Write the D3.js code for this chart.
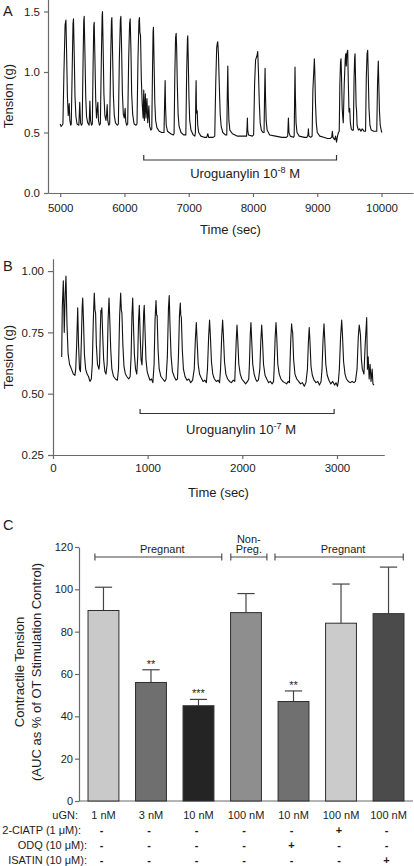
<!DOCTYPE html>
<html><head><meta charset="utf-8">
<script src="https://cdn.jsdelivr.net/npm/d3@7"></script>
<style>
html,body{margin:0;padding:0;background:#fff;}
svg{display:block;font-family:"Liberation Sans",Arial,sans-serif;}
</style></head><body>
<svg id="chart" width="414" height="866"></svg>
<script>
// ---------- DATA ----------
const aXTicks = [5000, 6000, 7000, 8000, 9000, 10000];
const aYTicks = [0, 0.5, 1.0, 1.5];
const bXTicks = [0, 1000, 2000, 3000];
const bYTicks = [0.25, 0.5, 0.75, 1.0];
const cYTicks = [0, 20, 40, 60, 80, 100, 120];

const aTreatment = [6300, 9300];   // Uroguanylin 10^-8 M (sec)
const bTreatment = [920, 2970];    // Uroguanylin 10^-7 M (sec)

// Panel A trace: [time (sec), tension (g)]
const traceA = [
[5000,0.57],[5015,0.55],[5030,0.56],[5042,0.57],
[5058,1.0],[5076,1.39],[5089,1.43],[5100,1.15],[5112,0.8],[5125,0.64],[5140,0.74],[5150,0.6],[5163,0.56],
[5172,0.57],[5186,1.0],[5199,1.40],[5207,1.44],[5218,1.15],[5230,0.8],[5245,0.63],[5262,0.57],[5290,0.56],[5304,0.75],[5316,0.58],[5330,0.56],
[5342,0.57],[5356,1.1],[5366,1.42],[5373,1.46],[5385,1.15],[5397,0.8],[5410,0.63],[5428,0.58],[5450,0.56],[5462,0.76],[5472,0.6],[5487,0.56],
[5500,0.57],[5513,1.1],[5522,1.38],[5529,1.41],[5540,1.12],[5552,0.78],[5565,0.62],[5576,0.69],[5586,0.75],[5595,0.6],[5610,0.56],
[5625,0.57],[5640,1.1],[5652,1.46],[5658,1.50],[5668,1.2],[5680,0.82],[5695,0.64],[5712,0.6],[5723,0.66],[5731,0.73],[5740,0.6],[5755,0.56],
[5770,0.57],[5785,1.1],[5797,1.42],[5804,1.45],[5815,1.15],[5828,0.8],[5842,0.64],[5860,0.58],[5890,0.56],
[5905,0.57],[5920,1.1],[5936,1.43],[5944,1.46],[5955,1.2],[5968,0.82],[5982,0.65],[5998,0.62],[6010,0.70],[6020,0.59],[6035,0.56],
[6050,0.57],[6065,1.1],[6080,1.4],[6089,1.44],[6100,1.2],[6112,0.82],[6128,0.65],[6150,0.57],[6180,0.56],
[6195,0.57],[6210,1.1],[6225,1.42],[6233,1.45],[6240,1.33],[6250,1.3],[6262,0.95],[6275,0.75],[6290,0.62],[6300,0.85],[6310,0.6],[6325,0.82],[6335,0.62],[6350,0.78],[6362,0.58],[6380,0.72],[6392,0.55],[6410,0.52],
[6425,0.53],[6436,1.0],[6445,1.33],[6451,1.37],[6460,1.1],[6472,0.75],[6485,0.6],[6505,0.54],[6540,0.51],[6580,0.50],
[6615,0.50],[6625,0.75],[6633,0.93],[6640,0.7],[6650,0.56],[6670,0.51],[6720,0.49],[6760,0.48],
[6772,0.49],[6783,0.95],[6795,1.28],[6804,1.32],[6812,1.2],[6822,0.9],[6835,0.65],[6850,0.55],[6880,0.50],[6920,0.48],
[6955,0.48],[6968,1.0],[6980,1.27],[6985,1.30],[6993,1.1],[7003,0.8],[7015,0.6],[7035,0.52],[7070,0.48],[7095,0.47],
[7104,0.5],[7110,0.8],[7115,0.93],[7120,0.7],[7125,0.66],[7132,0.68],[7140,0.56],[7155,0.50],[7190,0.47],[7240,0.46],[7280,0.46],[7297,0.49],[7310,0.46],[7380,0.46],
[7405,0.47],[7420,0.9],[7435,1.2],[7445,1.24],[7452,1.25],[7462,1.15],[7475,0.9],[7490,0.65],[7505,0.55],[7530,0.50],[7570,0.48],
[7592,0.48],[7601,0.85],[7608,1.05],[7615,0.8],[7625,0.6],[7640,0.52],[7680,0.49],[7760,0.47],[7850,0.47],[7900,0.47],[7908,0.55],[7913,0.62],[7918,0.52],[7930,0.48],[7990,0.47],
[8010,0.48],[8025,0.9],[8040,1.1],[8060,1.13],[8074,1.17],[8085,1.0],[8098,0.75],[8112,0.58],[8130,0.52],[8155,0.5],
[8172,0.5],[8180,0.8],[8188,1.03],[8195,0.8],[8205,0.6],[8220,0.52],[8260,0.48],[8350,0.47],[8450,0.46],[8520,0.46],[8540,0.47],[8551,0.62],[8560,0.5],[8580,0.47],[8630,0.46],
[8641,0.47],[8648,0.8],[8654,1.04],[8660,0.8],[8670,0.58],[8685,0.5],[8720,0.47],[8800,0.46],[8840,0.46],[8855,0.48],[8862,0.53],[8870,0.47],[8900,0.46],
[8920,0.47],[8932,0.85],[8942,0.96],[8950,1.05],[8955,1.11],[8962,1.0],[8972,0.75],[8985,0.58],[9000,0.5],[9040,0.47],[9100,0.46],[9160,0.45],[9200,0.45],[9225,0.46],[9235,0.51],[9245,0.46],[9270,0.44],[9285,0.47],[9300,0.42],[9315,0.47],[9330,0.5],
[9342,0.51],[9352,0.9],[9362,1.08],[9370,1.11],[9378,0.95],[9388,0.7],[9398,0.62],[9405,0.58],
[9420,0.9],[9435,1.1],[9443,1.15],[9452,1.05],[9460,1.15],[9474,1.18],[9482,0.95],[9494,0.67],[9505,0.70],[9515,0.58],[9530,0.53],[9545,0.52],
[9562,0.52],[9573,0.95],[9582,1.12],[9588,1.15],[9596,0.95],[9605,0.72],[9612,0.68],[9620,0.56],[9640,0.52],[9660,0.53],[9680,0.51],[9700,0.53],[9730,0.51],
[9752,0.51],[9763,0.95],[9775,1.15],[9785,1.18],[9795,0.95],[9805,0.7],[9820,0.56],[9840,0.52],[9880,0.51],[9910,0.51],
[9926,0.51],[9938,0.9],[9950,1.09],[9958,0.9],[9968,0.68],[9980,0.56],[9995,0.52],[10005,0.50]
];

// Panel B trace: [time (sec), tension (g)]
const traceB = [
[92,0.65],[98,0.85],[109,0.96],[119,0.75],[128,0.9],[137,0.98],[148,0.78],[160,0.66],[175,0.62],[195,0.6],[215,0.58],[232,0.575],[240,0.6],
[250,0.7],[261,0.85],[270,0.7],[280,0.6],[290,0.59],
[300,0.72],[308,0.85],[314,0.89],[322,0.8],[332,0.66],[345,0.6],[360,0.58],[375,0.57],[390,0.55],[405,0.56],
[415,0.62],[426,0.8],[436,0.91],[444,0.84],[450,0.83],[458,0.7],[470,0.62],[485,0.6],
[492,0.62],[500,0.76],[506,0.84],[510,0.83],[516,0.85],[524,0.75],[535,0.64],[548,0.59],[560,0.58],
[572,0.62],[582,0.8],[592,0.89],[600,0.8],[610,0.68],[622,0.6],[640,0.57],[660,0.56],[680,0.555],
[692,0.6],[704,0.82],[715,0.91],[722,0.84],[728,0.83],[738,0.7],[750,0.61],[765,0.58],[780,0.57],[800,0.56],[815,0.57],
[825,0.65],[834,0.82],[842,0.89],[850,0.78],[860,0.66],[872,0.6],[885,0.58],
[895,0.65],[904,0.8],[912,0.86],[920,0.75],[930,0.64],[940,0.617],
[950,0.72],[958,0.83],[964,0.86],[972,0.76],[982,0.64],[995,0.59],[1010,0.57],[1025,0.555],[1040,0.56],[1055,0.545],
[1068,0.62],[1078,0.8],[1088,0.88],[1095,0.82],[1100,0.82],[1110,0.68],[1122,0.6],[1140,0.57],[1160,0.56],[1180,0.55],[1195,0.56],
[1208,0.65],[1220,0.85],[1228,0.90],[1236,0.78],[1248,0.65],[1262,0.59],[1280,0.57],[1300,0.555],[1315,0.56],
[1325,0.65],[1336,0.82],[1345,0.87],[1350,0.82],[1356,0.81],[1366,0.68],[1378,0.6],[1395,0.57],[1415,0.555],[1435,0.56],[1455,0.545],[1475,0.555],
[1492,0.6],[1504,0.72],[1514,0.79],[1522,0.72],[1534,0.62],[1548,0.58],[1565,0.565],[1585,0.55],[1605,0.555],[1620,0.545],
[1632,0.6],[1644,0.73],[1654,0.80],[1662,0.74],[1674,0.63],[1688,0.58],[1705,0.56],[1725,0.55],[1745,0.555],[1760,0.545],
[1770,0.6],[1782,0.73],[1792,0.80],[1800,0.74],[1812,0.63],[1826,0.58],[1845,0.56],[1865,0.55],[1885,0.545],[1905,0.555],[1920,0.55],
[1925,0.6],[1936,0.72],[1944,0.78],[1952,0.72],[1963,0.62],[1978,0.58],[1995,0.56],[2015,0.55],[2035,0.54],[2055,0.55],[2068,0.56],
[2075,0.62],[2084,0.74],[2091,0.79],[2099,0.72],[2110,0.62],[2125,0.58],[2140,0.56],[2155,0.55],[2170,0.555],
[2185,0.6],[2196,0.72],[2205,0.78],[2213,0.72],[2224,0.62],[2240,0.575],[2258,0.56],[2278,0.545],[2295,0.55],[2315,0.54],[2330,0.55],
[2336,0.6],[2347,0.73],[2356,0.79],[2364,0.73],[2375,0.62],[2390,0.58],[2408,0.56],[2428,0.55],[2448,0.545],[2468,0.54],[2485,0.55],[2498,0.545],
[2502,0.6],[2512,0.72],[2521,0.785],[2526,0.76],[2532,0.75],[2542,0.64],[2556,0.58],[2575,0.56],[2595,0.55],[2615,0.54],[2635,0.545],[2655,0.53],[2672,0.545],
[2688,0.6],[2698,0.71],[2707,0.77],[2715,0.71],[2726,0.61],[2740,0.575],[2758,0.555],[2778,0.545],[2798,0.55],[2815,0.535],[2832,0.55],
[2842,0.6],[2853,0.72],[2863,0.785],[2871,0.72],[2882,0.62],[2897,0.575],[2915,0.555],[2935,0.54],[2955,0.55],[2975,0.535],[2990,0.545],[3005,0.53],[3015,0.55],
[3025,0.6],[3038,0.73],[3050,0.80],[3058,0.74],[3070,0.63],[3085,0.58],[3100,0.56],[3120,0.55],[3140,0.545],[3160,0.55],[3180,0.545],[3195,0.55],
[3212,0.6],[3225,0.73],[3235,0.78],[3242,0.76],[3248,0.74],[3258,0.64],[3268,0.6],
[3285,0.58],[3298,0.7],[3314,0.81],[3322,0.6],[3330,0.65],[3340,0.56],[3350,0.62],[3360,0.55],[3372,0.6],[3380,0.54],[3391,0.535]
];

// Panel C bars
const conditions   = ["1 nM","3 nM","10 nM","100 nM","10 nM","100 nM","100 nM"];
const tensionMeans = [90, 56, 45, 89, 47, 84, 88.5];
const tensionSEM   = [11, 6, 3, 9, 5, 18.5, 22];
const significance = ["", "**", "***", "", "**", "", ""];
const barColors    = ["#c9c9c9","#6f6f6f","#242424","#8e8e8e","#707070","#cbcbcb","#4b4b4b"];
const groupLabels  = [["Pregnant"], ["Non-","Preg."], ["Pregnant"]];
const rowLabels    = ["uGN:", "2-ClATP (1 \u03bcM):", "ODQ (10 \u03bcM):", "ISATIN (10 \u03bcM):"];
const clatpRow     = ["-","-","-","-","-","+","-"];
const odqRow       = ["-","-","-","-","+","-","-"];
const isatinRow    = ["-","-","-","-","-","-","+"];

// ---------- DRAW ----------
const svg = d3.select("#chart");
const AXIS = "#6a6a6a", TXT = "#1c1c1c";
function styleAxis(fs){
  return g => {
    g.selectAll("path,line").attr("stroke", AXIS).attr("stroke-width", 1.2);
    g.selectAll("text").attr("fill", TXT).style("font-size", fs + "px").style("font-family", '"Liberation Sans",Arial,sans-serif');
  };
}
function label(x, y, txt, fs, anchor, rot){
  const t = svg.append("text").attr("fill", TXT).style("font-size", fs + "px")
    .attr("text-anchor", anchor || "middle").text(txt);
  if (rot) t.attr("transform", `translate(${x},${y}) rotate(-90)`);
  else t.attr("x", x).attr("y", y);
  return t;
}
function drugLabel(x, y, exp){
  const t = svg.append("text").attr("fill", TXT).style("font-size", "13px").attr("x", x).attr("y", y);
  t.append("tspan").text("Uroguanylin 10");
  t.append("tspan").attr("dy", -5).style("font-size", "9px").text(exp);
  t.append("tspan").attr("dy", 5).text(" M");
}
const line = (xs, ys) => d3.line().x(d => xs(d[0])).y(d => ys(d[1]));

// Panel A
const xA = d3.scaleLinear().domain([4810, 10490]).range([48, 413]);
const yA = d3.scaleLinear().domain([0, 1.6]).range([193, -0.6]);
svg.append("g").attr("transform", "translate(48,0)")
  .call(d3.axisLeft(yA).tickValues(aYTicks).tickFormat(d3.format(".1f")).tickSize(4).tickSizeOuter(0).tickPadding(4))
  .call(styleAxis(11.5));
svg.append("g").attr("transform", "translate(0,193)")
  .call(d3.axisBottom(xA).tickValues(aXTicks).tickFormat(d3.format("d")).tickSize(4).tickSizeOuter(0).tickPadding(7))
  .call(styleAxis(11.5));
svg.append("path").datum(traceA).attr("d", line(xA, yA))
  .attr("fill", "none").attr("stroke", "#111").attr("stroke-width", 1.1).attr("stroke-linejoin", "round");
{
  const x0 = xA(aTreatment[0]), x1 = xA(aTreatment[1]), y = 160;
  svg.append("path").attr("d", `M${x0},${y-5}V${y}H${x1}V${y-5}`).attr("fill", "none").attr("stroke", "#333").attr("stroke-width", 1.2);
  drugLabel((x0 + x1) / 2 - 50, 178, "-8");
}
label(230.5, 234, "Time (sec)", 13);
label(12.5, 96, "Tension (g)", 13, "middle", true);
label(3, 16, "A", 14.5, "start");

// Panel B
const xB = d3.scaleLinear().domain([0, 3500]).range([53, 384.3]);
const yB = d3.scaleLinear().domain([0.25, 1.05]).range([455, 258.8]);
svg.append("g").attr("transform", "translate(53,0)")
  .call(d3.axisLeft(yB).tickValues(bYTicks).tickFormat(d3.format(".2f")).tickSize(5).tickSizeOuter(0).tickPadding(4))
  .call(styleAxis(11.5));
svg.append("g").attr("transform", "translate(0,455)")
  .call(d3.axisBottom(xB).tickValues(bXTicks).tickFormat(d3.format("d")).tickSize(4).tickSizeOuter(0).tickPadding(4.5))
  .call(styleAxis(11.5));
svg.append("path").datum(traceB).attr("d", line(xB, yB))
  .attr("fill", "none").attr("stroke", "#111").attr("stroke-width", 1.1).attr("stroke-linejoin", "round");
{
  const x0 = xB(bTreatment[0]), x1 = xB(bTreatment[1]), y = 413.5;
  svg.append("path").attr("d", `M${x0},${y-4.5}V${y}H${x1}V${y-4.5}`).attr("fill", "none").attr("stroke", "#333").attr("stroke-width", 1.2);
  drugLabel((x0 + x1) / 2 - 51, 434, "-7");
}
label(218.5, 497, "Time (sec)", 13);
label(12.5, 357, "Tension (g)", 13, "middle", true);
label(3, 271, "B", 14.5, "start");

// Panel C
const xC = d3.scaleBand().domain(d3.range(conditions.length)).range([79, 413]).paddingInner(0.35).paddingOuter(0.19);
const yC = d3.scaleLinear().domain([0, 120]).range([801, 547]);
const bw = xC.bandwidth(), step = xC.step();
const cx = i => xC(i) + bw / 2;
svg.append("g").attr("transform", "translate(79,0)")
  .call(d3.axisLeft(yC).tickValues(cYTicks).tickSize(4).tickSizeOuter(0).tickPadding(2))
  .call(styleAxis(11));
svg.append("line").attr("x1", 79).attr("x2", 413).attr("y1", 801).attr("y2", 801).attr("stroke", AXIS).attr("stroke-width", 1.2);

const bars = svg.append("g");
tensionMeans.forEach((v, i) => {
  const top = v + tensionSEM[i];
  bars.append("line").attr("x1", cx(i)).attr("x2", cx(i)).attr("y1", yC(v)).attr("y2", yC(top)).attr("stroke", "#444").attr("stroke-width", 1.2);
  bars.append("line").attr("x1", cx(i) - bw * 0.28).attr("x2", cx(i) + bw * 0.28).attr("y1", yC(top)).attr("y2", yC(top)).attr("stroke", "#444").attr("stroke-width", 1.2);
  bars.append("rect").attr("x", xC(i)).attr("y", yC(v)).attr("width", bw).attr("height", yC(0) - yC(v))
    .attr("fill", barColors[i]).attr("stroke", "#2e2e2e").attr("stroke-width", 1);
  if (significance[i]) label(cx(i), yC(top) - 2, significance[i], 11);
});

// group brackets (spans in bar-index units)
const groupSpans = [[-0.18, 2.49], [2.68, 3.44], [3.61, 6.31]];
const bx = f => cx(0) + f * step;
const by = 557;
groupSpans.forEach((s, k) => {
  const x0 = bx(s[0]), x1 = bx(s[1]);
  svg.append("path").attr("d", `M${x0},${by-3.5}V${by+3.5}M${x0},${by}H${x1}M${x1},${by-3.5}V${by+3.5}`)
    .attr("fill", "none").attr("stroke", "#444").attr("stroke-width", 1.1);
  const lab = groupLabels[k];
  const mid = (x0 + x1) / 2 + (lab.length === 1 ? 4 : 0);
  lab.forEach((t, j) => label(mid, by - 4 - (lab.length - 1 - j) * 10.5, t, 11));
});

// y title
label(24, 672, "Contractile Tension", 13, "middle", true);
label(40.5, 672, "(AUC as % of OT Stimulation Control)", 13, "middle", true);
label(3, 530, "C", 14.5, "start");

// table
const rowY = [819, 834, 849, 864];
const rowRight = [78, 81, 87, 87];
rowLabels.forEach((t, r) => label(rowRight[r], rowY[r], t, 11, "end"));
conditions.forEach((t, i) => label(cx(i), rowY[0], t, 11));
[clatpRow, odqRow, isatinRow].forEach((row, r) => {
  row.forEach((s, i) => {
    const t = label(cx(i) - 2, rowY[r + 1], s, 11);
    if (s === "+") t.style("font-weight", "bold");
    else t.style("font-weight", "bold");
  });
});
</script></body></html>
